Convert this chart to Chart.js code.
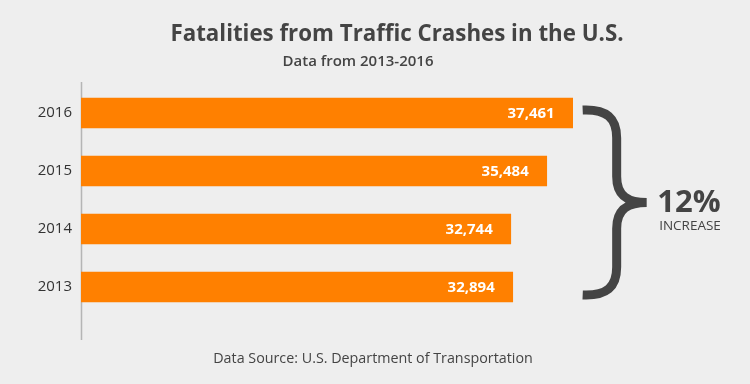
<!DOCTYPE html>
<html>
<head>
<meta charset="utf-8">
<script src="https://cdn.jsdelivr.net/npm/chart.js@4"></script>
<style>
  html, body { margin: 0; padding: 0; background: #eeeeee; }
  #wrap { width: 750px; height: 384px; position: relative; }
</style>
</head>
<body>
<div id="wrap"><canvas id="chart"></canvas></div>
<script>
// data (top to bottom)
const years = ['2016', '2015', '2014', '2013'];
const fatalities = [37461, 35484, 32744, 32894];
const increaseLabel = '12%';

const FONT = "'Open Sans', sans-serif";
const DARK = '#444444';

// titles, value labels, brace and footer
const decor = {
  id: 'decor',
  beforeDatasetsDraw(chart) {
    const { ctx, chartArea } = chart;
    ctx.save();
    ctx.strokeStyle = '#b5b5b5';
    ctx.lineWidth = 1.5;
    ctx.beginPath();
    ctx.moveTo(chartArea.left + 0.5, chartArea.top - 2);
    ctx.lineTo(chartArea.left + 0.5, chartArea.bottom + 24);
    ctx.stroke();
    ctx.restore();
  },
  afterDatasetsDraw(chart) {
    const { ctx } = chart;
    const bars = chart.getDatasetMeta(0).data;
    ctx.save();

    // value labels inside bars
    ctx.fillStyle = '#ffffff';
    ctx.font = 'bold 15px ' + FONT;
    ctx.textAlign = 'right';
    ctx.textBaseline = 'middle';
    bars.forEach((b, i) => {
      ctx.fillText(fatalities[i].toLocaleString('en-US'), b.x - 18, b.y + 1);
    });

    // titles
    ctx.fillStyle = DARK;
    ctx.textAlign = 'center';
    ctx.textBaseline = 'alphabetic';
    ctx.font = 'bold 22.3px ' + FONT;
    ctx.fillText('Fatalities from Traffic Crashes in the U.S.', 397, 41);
    ctx.font = '600 15px ' + FONT;
    ctx.fillText('Data from 2013-2016', 358, 65.5);

    // footer
    ctx.font = '14.3px ' + FONT;
    ctx.fillText('Data Source: U.S. Department of Transportation', 373, 363);

    // brace spanning all bars
    const top = bars[0].y - bars[0].height / 2 + 12;
    const bot = bars[bars.length - 1].y + bars[bars.length - 1].height / 2 - 7;
    const mid = (top + bot) / 2;
    const x0 = Math.max(...bars.map(b => b.x)) + 10;
    const xv = x0 + 34, xt = x0 + 64;
    ctx.strokeStyle = DARK;
    ctx.lineWidth = 9;
    ctx.lineCap = 'butt';
    ctx.lineJoin = 'miter';
    ctx.beginPath();
    ctx.moveTo(x0, top);
    ctx.bezierCurveTo(x0 + 24, top - 1, xv, top + 8, xv, top + 28);
    ctx.lineTo(xv, mid - 26);
    ctx.bezierCurveTo(xv, mid - 6, xv + 12, mid, xt, mid);
    ctx.bezierCurveTo(xv + 12, mid, xv, mid + 6, xv, mid + 26);
    ctx.lineTo(xv, bot - 28);
    ctx.bezierCurveTo(xv, bot - 8, x0 + 24, bot + 1, x0, bot);
    ctx.stroke();

    // increase callout
    ctx.fillStyle = DARK;
    ctx.textAlign = 'center';
    ctx.font = 'bold 31px ' + FONT;
    ctx.fillText(increaseLabel, 689, 212);
    ctx.font = '13.5px ' + FONT;
    ctx.fillText('INCREASE', 690, 230);
    ctx.restore();
  }
};

new Chart(document.getElementById('chart').getContext('2d'), {
  type: 'bar',
  data: {
    labels: years,
    datasets: [
      {
        label: 'Fatalities',
        data: fatalities,
        backgroundColor: '#ff8000',
        borderWidth: 0,
        barThickness: 30,
      },
    ],
  },
  options: {
    indexAxis: 'y',
    responsive: true,
    maintainAspectRatio: false,
    animation: false,
    layout: { padding: { top: 84, bottom: 68, right: 144, left: 0 } },
    scales: {
      x: { display: false, min: 0, max: 40000 },
      y: {
        afterFit(scale) { scale.width = 81; },
        border: { display: false },
        grid: { display: false, drawTicks: false },
        ticks: { padding: 9, color: '#333333', font: { family: FONT, size: 15 } },
      },
    },
    plugins: { legend: { display: false }, tooltip: { enabled: false }, title: { display: false } },
  },
  plugins: [decor],
});
</script>
</body>
</html>
